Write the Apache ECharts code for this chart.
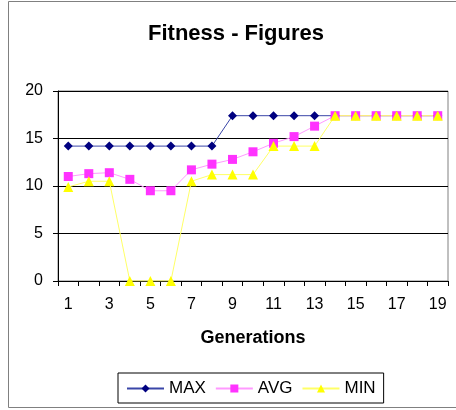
<!DOCTYPE html>
<html>
<head>
<meta charset="utf-8">
<script src="https://cdn.jsdelivr.net/npm/echarts@6/dist/echarts.min.js"></script>
<style>
html,body{margin:0;padding:0;background:#fff;}
#main{width:456px;height:410px;}
</style>
</head>
<body>
<div id="main"></div>
<script>
// generations 1..19
var generations=['1','2','3','4','5','6','7','8','9','10','11','12','13','14','15','16','17','18','19'];
var maxValues=[14.2,14.2,14.2,14.2,14.2,14.2,14.2,14.2,17.4,17.4,17.4,17.4,17.4,17.4,17.4,17.4,17.4,17.4,17.4];
var avgValues=[11.0,11.3,11.4,10.7,9.5,9.5,11.7,12.3,12.8,13.6,14.5,15.2,16.3,17.4,17.4,17.4,17.4,17.4,17.4];
var minValues=[9.9,10.5,10.5,0,0,0,10.5,11.2,11.2,11.2,14.2,14.2,14.2,17.4,17.4,17.4,17.4,17.4,17.4];
var yTicks={min:0,max:20,interval:5};

var font='"Liberation Sans", Arial, sans-serif';
var myChart=echarts.init(document.getElementById('main'));
var option={
    backgroundColor:'#ffffff',
    animation:false,
    textStyle:{fontFamily:font},
    title:{
        text:'Fitness - Figures',
        left:148,
        top:23,
        padding:0,
        textStyle:{fontSize:22,fontWeight:'bold',color:'#000',fontFamily:font}
    },
    graphic:[{
        type:'rect',
        shape:{x:8.5,y:1.5,width:460,height:406},
        style:{fill:'none',stroke:'#808080',lineWidth:1},
        silent:true
    }],
    legend:{
        left:118,
        top:373,
        padding:[7,8,6,8],
        itemGap:9,
        itemWidth:37,
        itemHeight:10,
        borderColor:'#000',
        borderWidth:1,
        textStyle:{fontSize:17,color:'#000',fontFamily:font},
        data:['MAX','AVG','MIN']
    },
    grid:{
        left:58,
        right:8,
        top:91,
        bottom:129,
        show:true,
        borderColor:'#808080',
        borderWidth:1
    },
    xAxis:{
        type:'category',
        data:generations,
        boundaryGap:true,
        name:'Generations',
        nameLocation:'middle',
        nameGap:48,
        nameTextStyle:{fontSize:18,fontWeight:'bold',color:'#000',fontFamily:font},
        axisLine:{lineStyle:{color:'#000',width:1}},
        axisTick:{show:true,interval:0,length:5,lineStyle:{color:'#000'}},
        axisLabel:{interval:1,fontSize:16,color:'#000',margin:16,fontFamily:font},
        splitLine:{show:false}
    },
    yAxis:{
        type:'value',
        min:yTicks.min,
        max:yTicks.max,
        interval:yTicks.interval,
        axisLine:{show:true,lineStyle:{color:'#000',width:1}},
        axisTick:{show:true,length:5,lineStyle:{color:'#000'}},
        axisLabel:{fontSize:16,color:'#000',margin:15,fontFamily:font},
        splitLine:{show:true,lineStyle:{color:'#000',width:1}}
    },
    series:[
        {
            name:'MAX',
            type:'line',
            data:maxValues,
            symbol:'diamond',
            symbolSize:9,
            itemStyle:{color:'#000080'},
            lineStyle:{color:'#3a46a8',width:1}
        },
        {
            name:'AVG',
            type:'line',
            data:avgValues,
            symbol:'rect',
            symbolSize:9,
            itemStyle:{color:'#ff33ff'},
            lineStyle:{color:'#ff99ff',width:1}
        },
        {
            name:'MIN',
            type:'line',
            data:minValues,
            symbol:'triangle',
            symbolSize:10,
            itemStyle:{color:'#ffff00'},
            lineStyle:{color:'#ffff66',width:1}
        }
    ]
};
myChart.setOption(option);
</script>
</body>
</html>
